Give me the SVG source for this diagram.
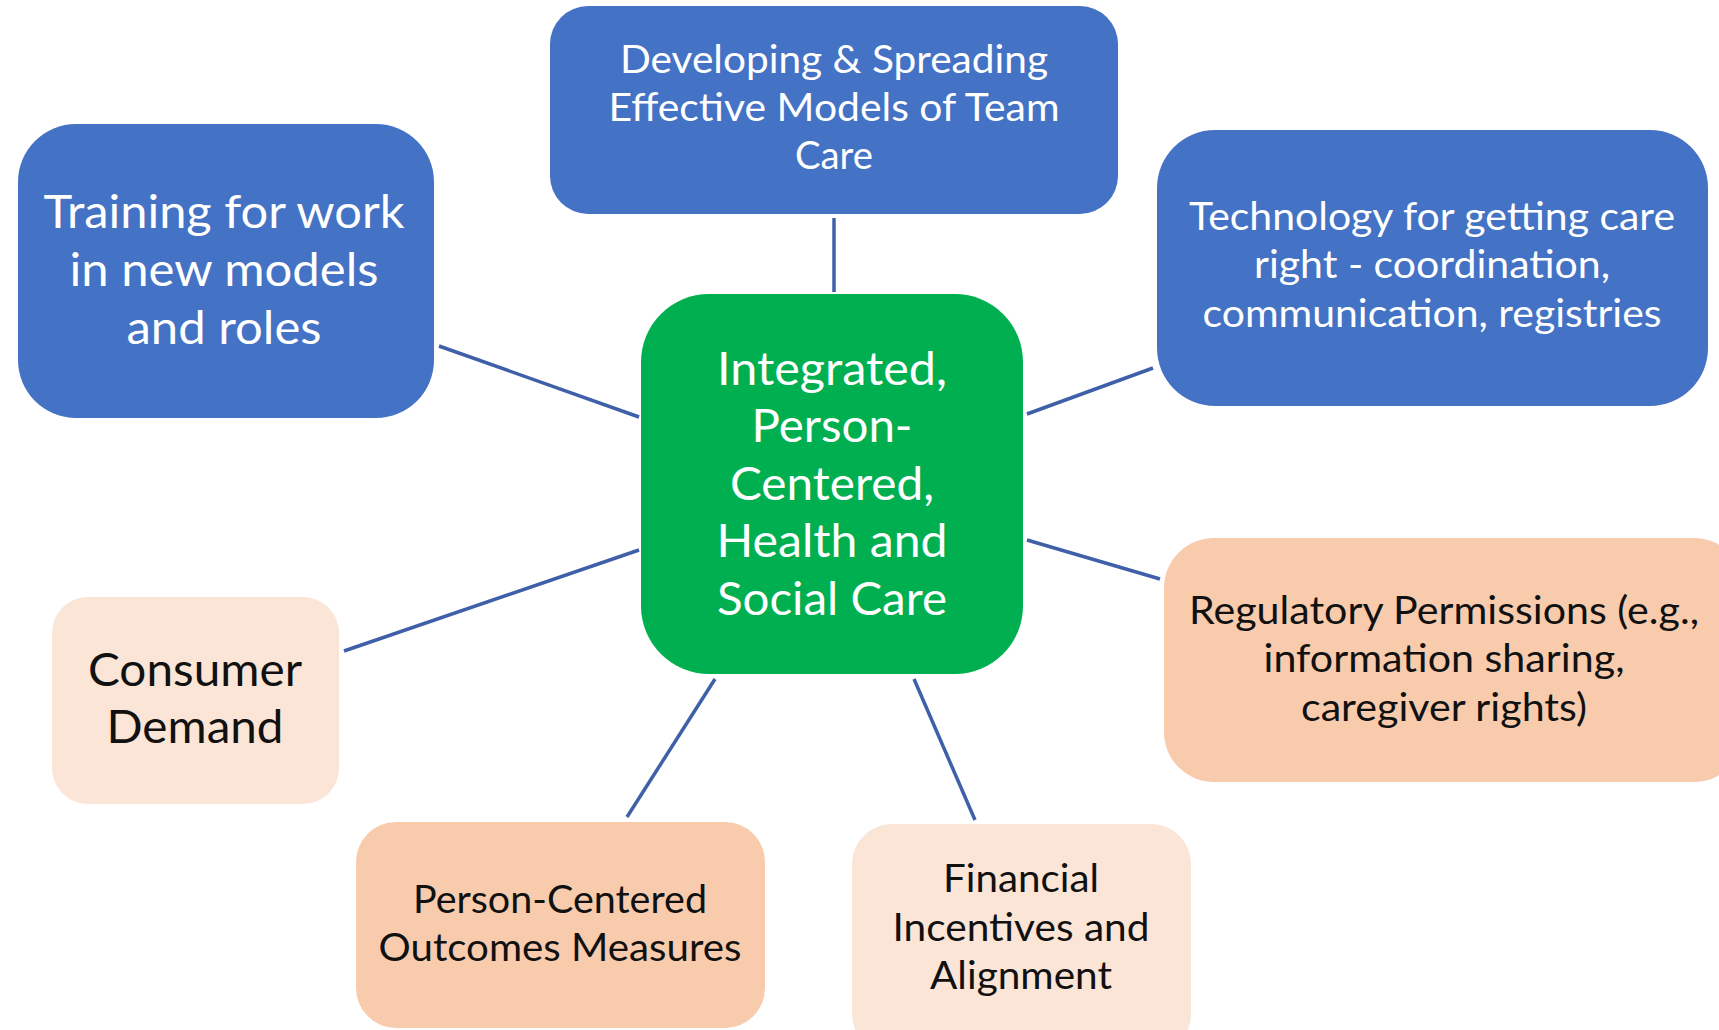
<svg xmlns="http://www.w3.org/2000/svg" width="1719" height="1030" viewBox="0 0 1719 1030">
<style>
.blue{fill:#4472C4}
.green{fill:#00B050}
.peach{fill:#FBE5D6}
.orange{fill:#F8CBAD}
text{font-family:Lato,"Open Sans","Liberation Sans",sans-serif;text-anchor:middle}
.w{fill:#FFFFFF}
.k{fill:#111111}
.conn line{stroke:#3F60A8;stroke-width:3.5;stroke-linecap:butt}
</style>
<rect width="1719" height="1030" fill="#FFFFFF"/>
<g class="conn" id="connectors">
<line x1="834" y1="218" x2="834" y2="292"/>
<line x1="439" y1="346" x2="639" y2="417"/>
<line x1="1027" y1="414" x2="1153" y2="368"/>
<line x1="344" y1="651" x2="639" y2="550"/>
<line x1="1027" y1="540" x2="1160" y2="579"/>
<line x1="715" y1="679" x2="627" y2="817"/>
<line x1="914" y1="679" x2="975" y2="820"/>
</g>
<g id="center">
<rect class="green" x="641" y="294" width="382" height="380" rx="68"/>
<g class="w" font-size="46">
<text x="832" y="385" textLength="230" lengthAdjust="spacingAndGlyphs">Integrated,</text>
<text x="832" y="442" textLength="161" lengthAdjust="spacingAndGlyphs">Person-</text>
<text x="832" y="500" textLength="204" lengthAdjust="spacingAndGlyphs">Centered,</text>
<text x="832" y="557" textLength="231" lengthAdjust="spacingAndGlyphs">Health and</text>
<text x="832" y="615" textLength="230" lengthAdjust="spacingAndGlyphs">Social Care</text>
</g>
</g>
<g id="developing">
<rect class="blue" x="550" y="6" width="568" height="208" rx="38"/>
<g class="w" font-size="38">
<text x="834" y="73" textLength="428" lengthAdjust="spacingAndGlyphs">Developing &amp; Spreading</text>
<text x="834" y="121" textLength="451" lengthAdjust="spacingAndGlyphs">Effective Models of Team</text>
<text x="834" y="169" textLength="78" lengthAdjust="spacingAndGlyphs">Care</text>
</g>
</g>
<g id="training">
<rect class="blue" x="18" y="124" width="416" height="294" rx="58"/>
<g class="w" font-size="46">
<text x="224" y="228" textLength="361" lengthAdjust="spacingAndGlyphs">Training for work</text>
<text x="224" y="286" textLength="309" lengthAdjust="spacingAndGlyphs">in new models</text>
<text x="224" y="344" textLength="195" lengthAdjust="spacingAndGlyphs">and roles</text>
</g>
</g>
<g id="technology">
<rect class="blue" x="1157" y="130" width="551" height="276" rx="58"/>
<g class="w" font-size="38">
<text x="1432" y="230" textLength="486" lengthAdjust="spacingAndGlyphs">Technology for getting care</text>
<text x="1432" y="278" textLength="356" lengthAdjust="spacingAndGlyphs">right - coordination,</text>
<text x="1432" y="327" textLength="459" lengthAdjust="spacingAndGlyphs">communication, registries</text>
</g>
</g>
<g id="regulatory">
<rect class="orange" x="1164" y="538" width="580" height="244" rx="50"/>
<g class="k" font-size="38">
<text x="1444" y="624" textLength="510" lengthAdjust="spacingAndGlyphs">Regulatory Permissions (e.g.,</text>
<text x="1444" y="672" textLength="361" lengthAdjust="spacingAndGlyphs">information sharing,</text>
<text x="1444" y="721" textLength="286" lengthAdjust="spacingAndGlyphs">caregiver rights)</text>
</g>
</g>
<g id="consumer">
<rect class="peach" x="52" y="597" width="287" height="207" rx="36"/>
<g class="k" font-size="46">
<text x="195" y="686" textLength="214" lengthAdjust="spacingAndGlyphs">Consumer</text>
<text x="195" y="743" textLength="177" lengthAdjust="spacingAndGlyphs">Demand</text>
</g>
</g>
<g id="outcomes">
<rect class="orange" x="356" y="822" width="409" height="206" rx="40"/>
<g class="k" font-size="38">
<text x="560" y="913" textLength="294" lengthAdjust="spacingAndGlyphs">Person-Centered</text>
<text x="560" y="961" textLength="363" lengthAdjust="spacingAndGlyphs">Outcomes Measures</text>
</g>
</g>
<g id="financial">
<rect class="peach" x="852" y="824" width="339" height="230" rx="40"/>
<g class="k" font-size="38">
<text x="1021" y="892" textLength="156" lengthAdjust="spacingAndGlyphs">Financial</text>
<text x="1021" y="941" textLength="257" lengthAdjust="spacingAndGlyphs">Incentives and</text>
<text x="1021" y="989" textLength="182" lengthAdjust="spacingAndGlyphs">Alignment</text>
</g>
</g>
</svg>
